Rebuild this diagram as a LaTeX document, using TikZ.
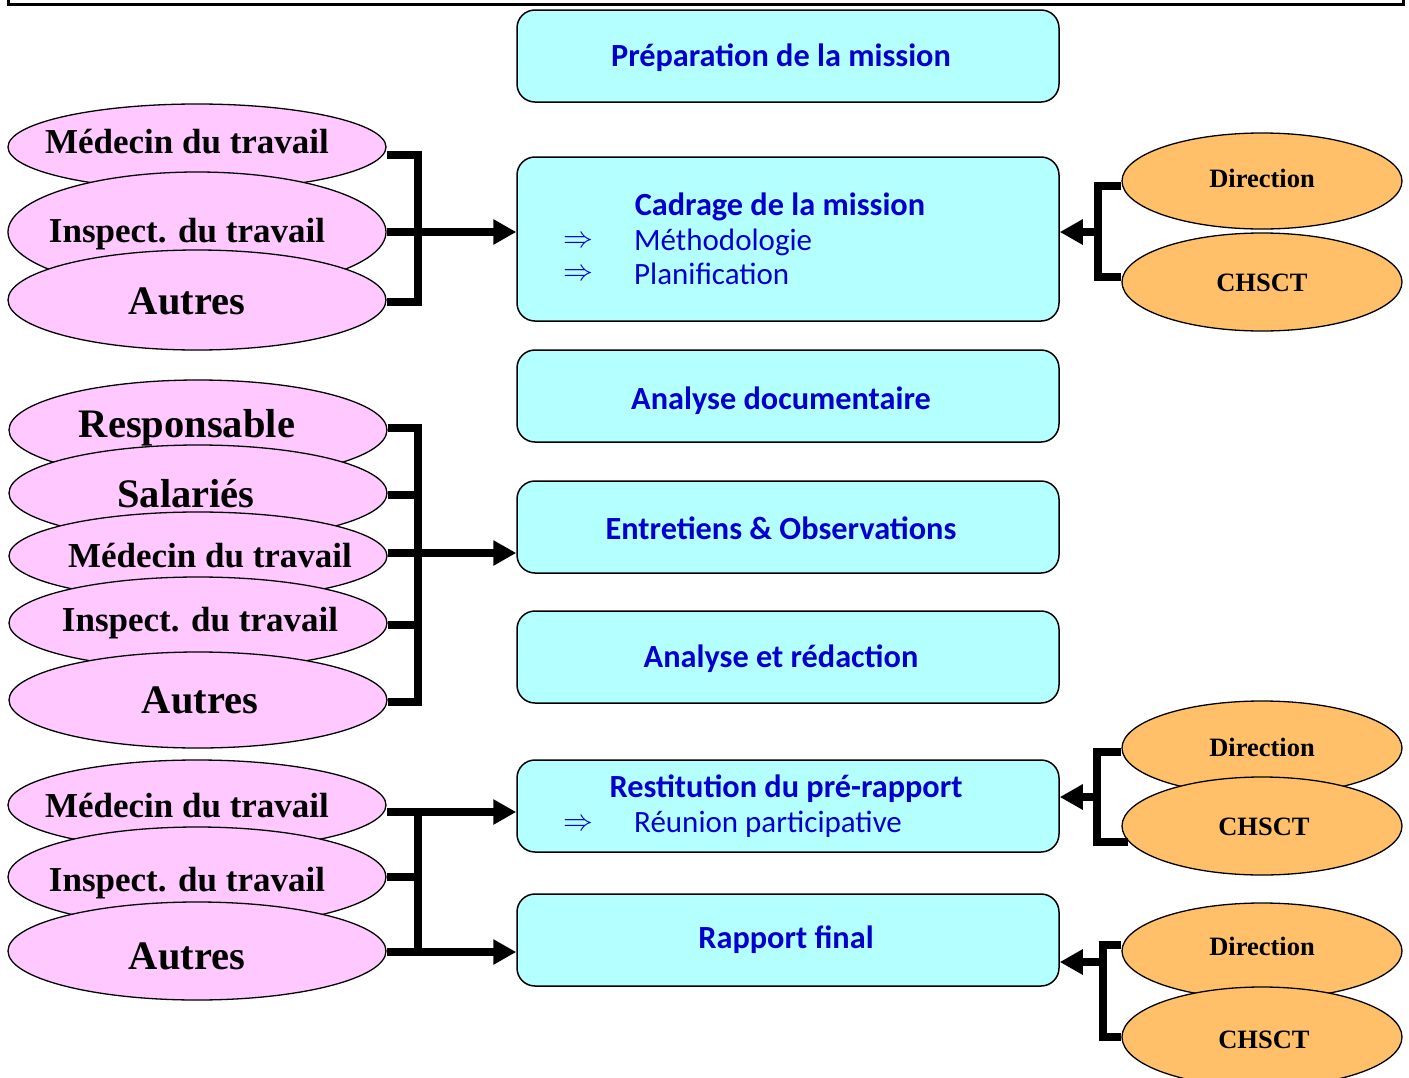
\documentclass[tikz,border=0pt]{standalone}
\usepackage{fontspec}
\usepackage{graphicx}
\setmainfont{Liberation Serif}
\newfontfamily\carlito{Carlito}
\usetikzlibrary{shapes.geometric,arrows.meta}
\definecolor{boxfill}{RGB}{180,255,255}
\definecolor{pinkfill}{RGB}{255,200,255}
\definecolor{orangefill}{RGB}{255,192,105}
\definecolor{txtblue}{RGB}{0,0,205}
\newcommand{\myimp}{\scalebox{1.2}{$\Rightarrow$}}
\begin{document}
\begin{tikzpicture}[x=1pt,y=-1pt,
 box/.style={draw=black, line width=1.5pt, fill=boxfill, rounded corners=18pt, minimum width=542pt, inner sep=0pt},
 btext/.style={font=\carlito\bfseries\fontsize{32.3}{38}\selectfont, text=txtblue, inner sep=0pt},
 bbody/.style={font=\carlito\fontsize{31}{37}\selectfont, text=txtblue, inner sep=0pt, anchor=west},
 barrow/.style={font=\fontsize{24.88}{30}\selectfont, text=txtblue, inner sep=0pt},
 pell/.style={ellipse, draw=black, line width=1.3pt, fill=pinkfill, minimum width=378pt, inner sep=0pt},
 oell/.style={ellipse, draw=black, line width=1.3pt, fill=orangefill, minimum width=280pt, inner sep=0pt},
 otext/.style={inner sep=0pt, font=\bfseries\fontsize{26.5}{30}\selectfont},
 ptext/.style={inner sep=0pt, font=\bfseries\fontsize{35}{40}\selectfont},
 pbig/.style={inner sep=0pt, font=\bfseries\fontsize{40.5}{45}\selectfont},
 conn/.style={line width=7.5pt},
 bus/.style={line width=7.5pt, line cap=rect},
 arr/.style={line width=7.5pt, -{Triangle[length=23pt,width=24pt]}},
]
\clip (0,0) rectangle (1409,1077);
% top frame
\draw[line width=3pt] (8,-10) -- (8,4) -- (1403,4) -- (1403,-10);

% central boxes
\node[box, minimum height=92pt] (p1) at (788,56) {};
\node[btext] (p1t) at (781,58) {Préparation de la mission};

\node[box, minimum height=164pt] (p2) at (788,239) {};
\node[btext] (p2t) at (780,207) {Cadrage de la mission};
\node[barrow] (p2a1) at (578,242) {\myimp};
\node[bbody] (p2m) at (634,242) {Méthodologie};
\node[barrow] (p2a2) at (578,275) {\myimp};
\node[bbody] (p2p) at (634,274) {Planification};

\node[box, minimum height=92pt] (p3) at (788,396) {};
\node[btext] (p3t) at (781,401) {Analyse documentaire};

\node[box, minimum height=92pt] (p4) at (788,527) {};
\node[btext] (p4t) at (781,528) {Entretiens \& Observations};

\node[box, minimum height=92pt] (p5) at (788,657) {};
\node[btext] (p5t) at (781,659) {Analyse et rédaction};

\node[box, minimum height=92pt] (p6) at (788,806) {};
\node[btext] (p6t) at (786,789) {Restitution du pré-rapport};
\node[barrow] (p6a) at (578,825) {\myimp};
\node[bbody] (p6r) at (634,824) {Réunion participative};

\node[box, minimum height=92pt] (p7) at (788,940) {};
\node[btext] (p7t) at (786,940) {Rapport final};

% pink group A
\node[pell, minimum height=86pt] (a1) at (197,147) {};
\node[ptext] (a1t) at (187,142) {Médecin du travail};
\node[pell, minimum height=120pt] (a2) at (197,232) {};
\node[ptext] (a2t) at (187,234) {Inspect. du travail};
\node[pell, minimum height=100pt] (a3) at (197,300) {};
\node[pbig] (a3t) at (187,301) {Autres};

% pink group B
\node[pell, minimum height=100pt] (b1) at (198,430) {};
\node[pbig] (b1t) at (187,428) {Responsable};
\node[pell, minimum height=96pt] (b2) at (198,493) {};
\node[pbig] (b2t) at (186,494) {Salariés};
\node[pell, minimum height=88pt] (b3) at (198,556) {};
\node[ptext] (b3t) at (210,556) {Médecin du travail};
\node[pell, minimum height=92pt] (b4) at (198,623) {};
\node[ptext] (b4t) at (200,623) {Inspect. du travail};
\node[pell, minimum height=96pt] (b5) at (198,700) {};
\node[pbig] (b5t) at (200,700) {Autres};

% pink group C
\node[pell, minimum height=90pt] (c1) at (197,805) {};
\node[ptext] (c1t) at (187,806) {Médecin du travail};
\node[pell, minimum height=100pt] (c2) at (197,877) {};
\node[ptext] (c2t) at (187,883) {Inspect. du travail};
\node[pell, minimum height=98pt] (c3) at (197,951) {};
\node[pbig] (c3t) at (187,956) {Autres};

% orange ellipses
\node[oell, minimum height=96pt] (o1) at (1262,181) {};
\node[otext] (o1t) at (1262,178) {Direction};
\node[oell, minimum height=98pt] (o2) at (1262,282) {};
\node[otext] (o2t) at (1262,283) {CHSCT};
\node[oell, minimum height=94pt] (o3) at (1262,748) {};
\node[otext] (o3t) at (1262,747) {Direction};
\node[oell, minimum height=98pt] (o4) at (1262,826) {};
\node[otext] (o4t) at (1264,827) {CHSCT};
\node[oell, minimum height=96pt] (o5) at (1262,951) {};
\node[otext] (o5t) at (1262,946) {Direction};
\node[oell, minimum height=100pt] (o6) at (1262,1037) {};
\node[otext] (o6t) at (1264,1040) {CHSCT};

% connectors group A
\coordinate (ja1) at (418,155);
\coordinate (ja3) at (418,302);
\draw[conn] ([yshift=-8pt]a1.east) -- (ja1) -- (ja3) -- ([yshift=-2pt]a3.east);
\draw[arr] (a2.east) -- (a2.east -| p2.west);

% connectors group B
\coordinate (jb1) at (418,428);
\coordinate (jb5) at (418,702);
\draw[conn] ([yshift=2pt]b1.east) -- (jb1) -- (jb5) -- ([yshift=-2pt]b5.east);
\draw[conn] ([yshift=-2pt]b2.east) -- ([yshift=-2pt]b2.east -| jb1);
\draw[conn] ([yshift=-2pt]b4.east) -- ([yshift=-2pt]b4.east -| jb1);
\draw[arr] ([yshift=3pt]b3.east) -- ([yshift=3pt]b3.east -| p4.west);

% connectors group C
\coordinate (jc1) at (418,812);
\coordinate (jc3) at (418,952);
\draw[bus] (jc1) -- (jc3);
\draw[conn] (c2.east) -- (c2.east -| jc1);
\draw[arr] ([yshift=-7pt]c1.east) -- ([yshift=-7pt]c1.east -| p6.west);
\draw[arr] ([yshift=-1pt]c3.east) -- ([yshift=-1pt]c3.east -| p7.west);

% right group 1
\coordinate (jr1t) at (1098,186);
\coordinate (jr1b) at (1098,277);
\coordinate (jr1m) at (1098,232);
\draw[conn] ([yshift=-5pt]o1.west) -- (jr1t) -- (jr1b) -- ([yshift=5pt]o2.west);
\draw[arr] (jr1m) -- (jr1m -| p2.east);

% right group 2
\coordinate (jr2t) at (1097,752);
\coordinate (jr2b) at (1097,842);
\coordinate (jr2m) at (1097,797);
\draw[conn] ([yshift=-4pt]o3.west) -- (jr2t) -- (jr2b) -- ([xshift=7pt,yshift=-16pt]o4.west);
\draw[arr] (jr2m) -- (jr2m -| p6.east);

% right group 3
\coordinate (jr3t) at (1103,945);
\coordinate (jr3b) at (1103,1037);
\coordinate (jr3m) at (1103,962);
\draw[conn] ([yshift=6pt]o5.west) -- (jr3t) -- (jr3b) -- (o6.west);
\draw[arr] (jr3m) -- (jr3m -| p7.east);
\end{tikzpicture}
\end{document}
